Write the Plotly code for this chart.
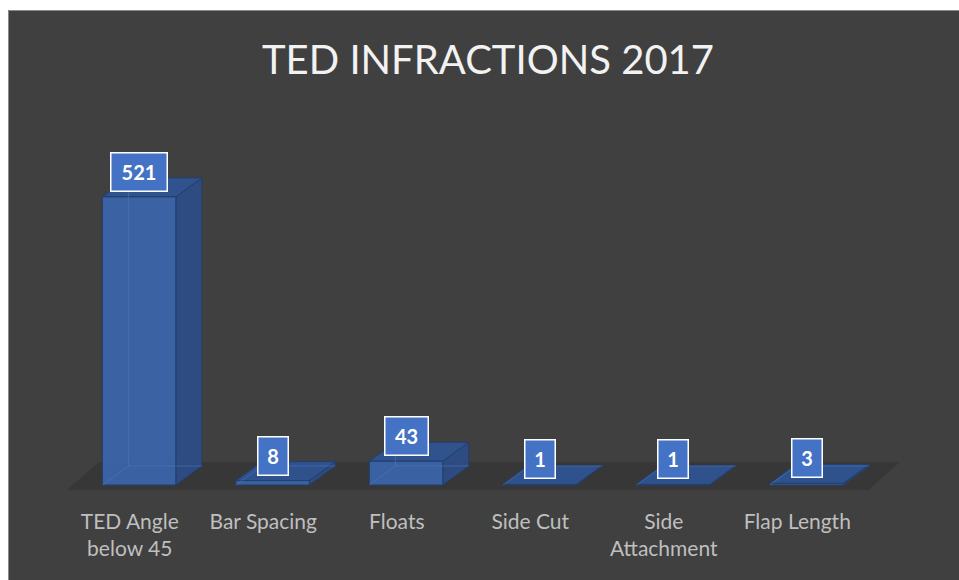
import plotly.graph_objects as go

# ---- data ----
categories = ["TED Angle<br>below 45", "Bar Spacing", "Floats", "Side Cut", "Side<br>Attachment", "Flap Length"]
values = [521, 8, 43, 1, 1, 3]
title_text = "TED INFRACTIONS 2017"

# ---- style / geometry (pixels -> data units) ----
W, H = 959, 580
ML, MR, MT, MB = 59, 32, 100, 85
PX_PER_X = 133.5
PX_PER_Y = 0.553
plot_w = W - ML - MR
plot_h = H - MT - MB
x0 = -0.6
xrange_ = [x0, x0 + plot_w / PX_PER_X]
ybot = -10 / PX_PER_Y
yrange_ = [ybot, ybot + plot_h / PX_PER_Y]

bw = 0.55                  # front face width (x units)
ddx = 26 / PX_PER_X        # depth offset x
ddy = 19 / PX_PER_Y        # depth offset y

FRONT = "rgba(59,99,165,0.97)"
TOP = "rgba(48,84,145,0.97)"
SIDE = "rgba(45,76,132,0.97)"
EDGE = "rgba(36,62,108,1)"
HIDDEN = "rgba(80,120,190,0.55)"
BG = "#404040"
FLOOR = "#373737"

fig = go.Figure()

# floor
fl_dx = 32 / PX_PER_X
fl_dy = 28 / PX_PER_Y
fl_y = -5 / PX_PER_Y
fl_left = -0.5 - 0.04
fl_right = len(categories) - 0.5 - 0.04
fig.add_trace(go.Scatter(
    x=[fl_left, fl_right, fl_right + fl_dx, fl_left + fl_dx, fl_left],
    y=[fl_y, fl_y, fl_y + fl_dy, fl_y + fl_dy, fl_y],
    fill="toself", fillcolor=FLOOR, mode="lines", line=dict(width=0),
    hoverinfo="skip", showlegend=False))

for i, v in enumerate(values):
    l, r = i - bw / 2, i + bw / 2
    # side face
    fig.add_trace(go.Scatter(
        x=[r, r + ddx, r + ddx, r, r], y=[0, ddy, v + ddy, v, 0],
        fill="toself", fillcolor=SIDE, mode="lines", line=dict(color=EDGE, width=1),
        hoverinfo="skip", showlegend=False))
    # top face
    fig.add_trace(go.Scatter(
        x=[l, r, r + ddx, l + ddx, l], y=[v, v, v + ddy, v + ddy, v],
        fill="toself", fillcolor=TOP, mode="lines", line=dict(color=EDGE, width=1),
        hoverinfo="skip", showlegend=False))
    # front face
    fig.add_trace(go.Scatter(
        x=[l, r, r, l, l], y=[0, 0, v, v, 0],
        fill="toself", fillcolor=FRONT, mode="lines", line=dict(color=EDGE, width=1),
        hoverinfo="skip", showlegend=False))
    # hidden (see-through) edges
    fig.add_trace(go.Scatter(
        x=[l + ddx, l + ddx, r + ddx, None, l, l + ddx],
        y=[v + ddy, ddy, ddy, None, 0, ddy],
        mode="lines", line=dict(color=HIDDEN, width=1),
        hoverinfo="skip", showlegend=False))

# data labels
annotations = []
for i, v in enumerate(values):
    n = len(str(v))
    annotations.append(dict(
        x=i, y=v, xref="x", yref="y", text=f"<b>{v}</b>", showarrow=False,
        yanchor="bottom", yshift=5,
        font=dict(family="Lato", size=20, color="white"),
        bgcolor="#4472C4", bordercolor="white", borderwidth=1.5, borderpad=1,
        width=14 + 13 * n, height=35))

def px_to_paper_x(px):
    return (px - ML) / plot_w

def px_to_paper_y(py):
    return (H - MB - py) / plot_h

shapes = [
    # white outer strips (top and left)
    dict(type="rect", xref="paper", yref="paper", layer="below",
         x0=px_to_paper_x(-5), x1=px_to_paper_x(W + 5),
         y0=px_to_paper_y(10), y1=px_to_paper_y(-5),
         fillcolor="white", line=dict(width=0)),
    dict(type="rect", xref="paper", yref="paper", layer="below",
         x0=px_to_paper_x(-5), x1=px_to_paper_x(8),
         y0=px_to_paper_y(H + 5), y1=px_to_paper_y(-5),
         fillcolor="white", line=dict(width=0)),
    # thin grey chart border
    dict(type="line", xref="paper", yref="paper", layer="below",
         x0=px_to_paper_x(8.5), x1=px_to_paper_x(W + 5),
         y0=px_to_paper_y(10.5), y1=px_to_paper_y(10.5),
         line=dict(color="#8a8a8a", width=1)),
    dict(type="line", xref="paper", yref="paper", layer="below",
         x0=px_to_paper_x(8.5), x1=px_to_paper_x(8.5),
         y0=px_to_paper_y(10.5), y1=px_to_paper_y(H + 5),
         line=dict(color="#8a8a8a", width=1)),
]

fig.update_layout(
    width=W, height=H,
    margin=dict(l=ML, r=MR, t=MT, b=MB),
    paper_bgcolor=BG, plot_bgcolor=BG,
    title=dict(text=title_text, x=488 / W, xanchor="center", xref="container",
               y=1 - 60 / H, yanchor="middle", yref="container",
               font=dict(family="Lato", size=40, color="#F2F2F2")),
    xaxis=dict(range=xrange_, tickvals=[i - 0.07 for i in range(len(categories))],
               ticktext=categories, showgrid=False, zeroline=False, showline=False,
               ticks="", ticklabelstandoff=12,
               tickfont=dict(family="Lato", size=21, color="#BFBFBF")),
    yaxis=dict(range=yrange_, visible=False, showgrid=False, zeroline=False),
    annotations=annotations, shapes=shapes,
)

fig.write_html("out.html",
               config={"displayModeBar": False},
               post_script="document.documentElement.style.overflow='hidden';"
                           "document.body.style.overflow='hidden';"
                           "document.body.style.margin='0';")
